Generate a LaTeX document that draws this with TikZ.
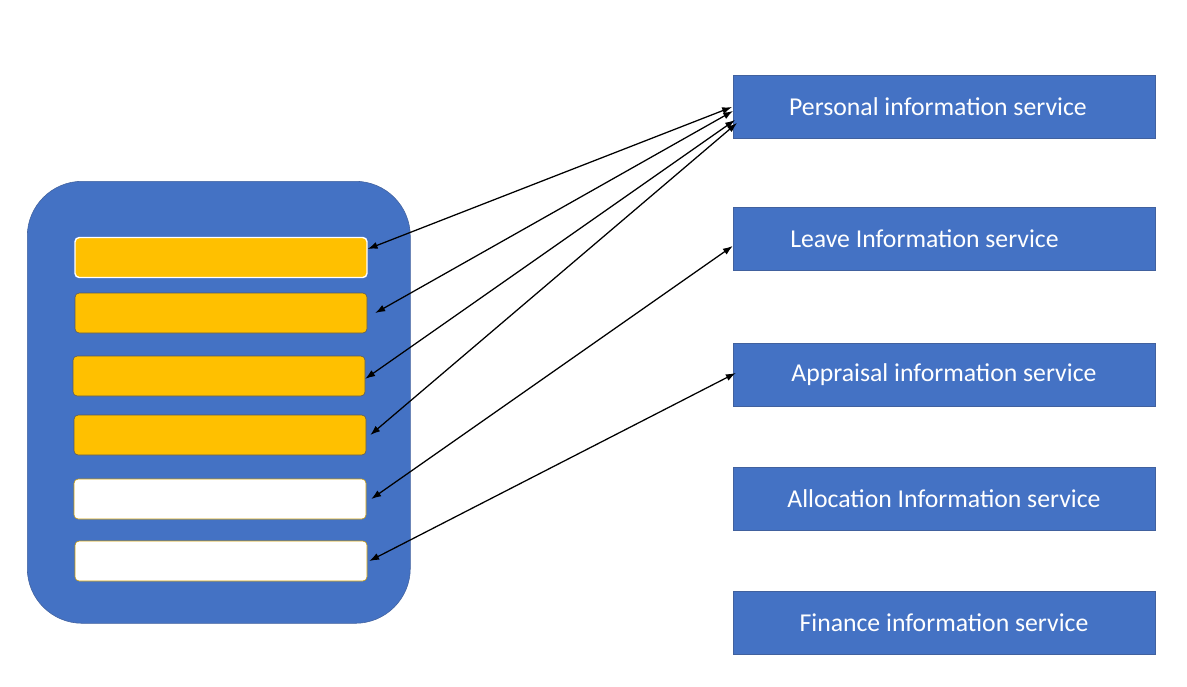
\documentclass[tikz,border=0pt]{standalone}
\usepackage{fontspec}
\setmainfont{Carlito}
\usetikzlibrary{arrows.meta}
\usetikzlibrary{positioning}
\definecolor{svcblue}{HTML}{4472C4}
\definecolor{svcedge}{HTML}{41619E}
\definecolor{slotgold}{HTML}{FFC000}
\tikzset{>={Latex[length=7pt,width=5pt]}, font=\fontsize{18.3}{18.3}\selectfont}
\tikzstyle{service} = [draw=svcedge, fill=svcblue, rectangle, minimum width=422*0.025cm, minimum height=63*0.025cm, inner sep=0pt]
\tikzstyle{svclabel} = [text=white, inner sep=0pt]
\tikzstyle{slot} = [draw=gray!70!black, fill=slotgold, rectangle, rounded corners=3pt, minimum width=292*0.025cm, minimum height=40*0.025cm, inner sep=0pt, line width=0.4pt]
\tikzstyle{link} = [<->, line width=0.9pt, black]
\begin{document}
\begin{tikzpicture}[x=0.025cm, y=-0.025cm]
    \useasboundingbox (0,0) rectangle (1187,686);
    % client side
    \node [draw=svcedge, fill=svcblue, rectangle, rounded corners=55*0.025cm, minimum width=383*0.025cm, minimum height=442*0.025cm, anchor=north west] (client) at (27,181) {};
    \node [slot, draw=white, line width=1pt] (bar1) at (221,257.5) {};
    \node [slot] (bar2) at (221,313) {};
    \node [slot] (bar3) at (219,376) {};
    \node [slot] (bar4) at (220,435) {};
    \node [slot, fill=white, draw=slotgold!80!black] (bar5) at (220,499) {};
    \node [slot, fill=white, draw=slotgold!80!black] (bar6) at (221,561) {};
    % services
    \node [service] (pis) at (944,107) {};
    \node [service] (lis) at (944,238.5) {};
    \node [service] (ais) at (944,374.5) {};
    \node [service] (alis) at (944,498.5) {};
    \node [service] (fis) at (944,622.5) {};
    \node [svclabel] (pist) at (938,107) {Personal information service};
    \node [svclabel, anchor=west] (list) at (790,238.5) {Leave Information service};
    \node [svclabel] (aist) at (944,374.5) {Appraisal information service};
    \node [svclabel] (alist) at (944,498.5) {Allocation Information service};
    \node [svclabel] (fist) at (944,622.5) {Finance information service};
    % links
    \coordinate (p1) at (732,107);
    \coordinate (p2) at (733,111);
    \coordinate (p3) at (735,120);
    \coordinate (p4) at (737,123);
    \draw [link] (bar1.east |- 0,249) -- (p1);
    \draw [link] ([xshift=8*0.025cm]bar2.east) -- (p2);
    \draw [link] ([yshift=-2pt]bar3.east) -- (p3);
    \draw [link] ([xshift=4*0.025cm]bar4.east) -- (p4);
    \draw [link] ([xshift=5*0.025cm]bar5.east) -- (lis.west |- 0,246) ;
    \draw [link] ([xshift=2*0.025cm]bar6.east) -- ([xshift=3*0.025cm]ais.west |- 0,373);
\end{tikzpicture}
\end{document}
